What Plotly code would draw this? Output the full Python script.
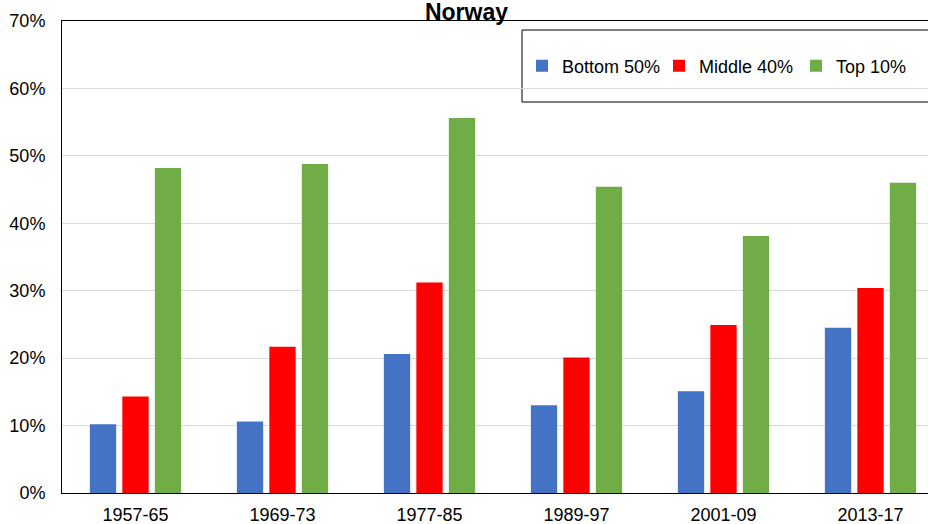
import plotly.graph_objects as go

# Shares by income group, per period (percent)
periods = ["1957-65", "1969-73", "1977-85", "1989-97", "2001-09", "2013-17"]
bottom_50 = [10.2, 10.6, 20.6, 13.0, 15.1, 24.5]
middle_40 = [14.3, 21.7, 31.2, 20.1, 24.9, 30.4]
top_10 = [48.2, 48.8, 55.6, 45.4, 38.1, 46.0]

series_names = ["Bottom 50%", "Middle 40%", "Top 10%"]
series_colors = ["#4472C4", "#FF0000", "#70AD47"]
y_ticks = [0, 10, 20, 30, 40, 50, 60, 70]
y_tick_labels = [f"{v}%" for v in y_ticks]

FONT = "Liberation Sans, Arial, sans-serif"
W, H = 928, 524
ML, MR, MT, MB = 62, 0, 21, 31
plot_w = W - ML - MR
plot_h = H - MT - MB
cat_px = 147.0  # width of one category slot


def px_x(x):
    return (x - ML) / plot_w


def px_y(y):
    return (H - MB - y) / plot_h


fig = go.Figure()
for name, vals, color in zip(series_names, [bottom_50, middle_40, top_10], series_colors):
    fig.add_trace(go.Bar(
        x=periods, y=vals, name=name,
        marker=dict(color=color, line=dict(width=0)),
    ))

fig.update_layout(
    width=W, height=H,
    margin=dict(l=ML, r=MR, t=MT, b=MB, pad=0, autoexpand=False),
    paper_bgcolor="white", plot_bgcolor="white",
    font=dict(family=FONT, size=18, color="black"),
    barmode="group", bargap=0.337, bargroupgap=0.19,
    title=dict(
        text="<b>Norway</b>", font=dict(family=FONT, size=23, color="black"),
        x=466.5 / W, xref="container", xanchor="center",
        y=1 - 12 / H, yref="container", yanchor="middle",
        automargin=False,
    ),
    xaxis=dict(
        type="category", range=[-0.5, -0.5 + plot_w / cat_px],
        showline=True, linecolor="black", linewidth=1, mirror=True,
        showgrid=False, ticks="", ticklabelstandoff=5, automargin=False,
        tickfont=dict(family=FONT, size=18, color="black"),
    ),
    yaxis=dict(
        range=[0, 70], tickmode="array", tickvals=y_ticks, ticktext=y_tick_labels,
        showline=True, linecolor="black", linewidth=1, mirror=False,
        showgrid=True, gridcolor="#d9d9d9", gridwidth=1,
        zeroline=False, ticks="", ticklabelstandoff=12, automargin=False,
        tickfont=dict(family=FONT, size=18, color="black"),
    ),
    legend=dict(
        orientation="h", x=px_x(522), xanchor="left",
        y=px_y(66), yanchor="middle",
        entrywidth=92, entrywidthmode="pixels",
        bgcolor="rgba(0,0,0,0)", borderwidth=0,
        font=dict(family=FONT, size=18, color="black"),
        itemclick=False, itemdoubleclick=False,
    ),
    shapes=[dict(
        type="rect", xref="paper", yref="paper",
        x0=px_x(522), x1=px_x(945), y0=px_y(102), y1=px_y(30),
        line=dict(color="black", width=1), fillcolor="white", layer="below",
    )],
)

fig.write_html("out.html")
